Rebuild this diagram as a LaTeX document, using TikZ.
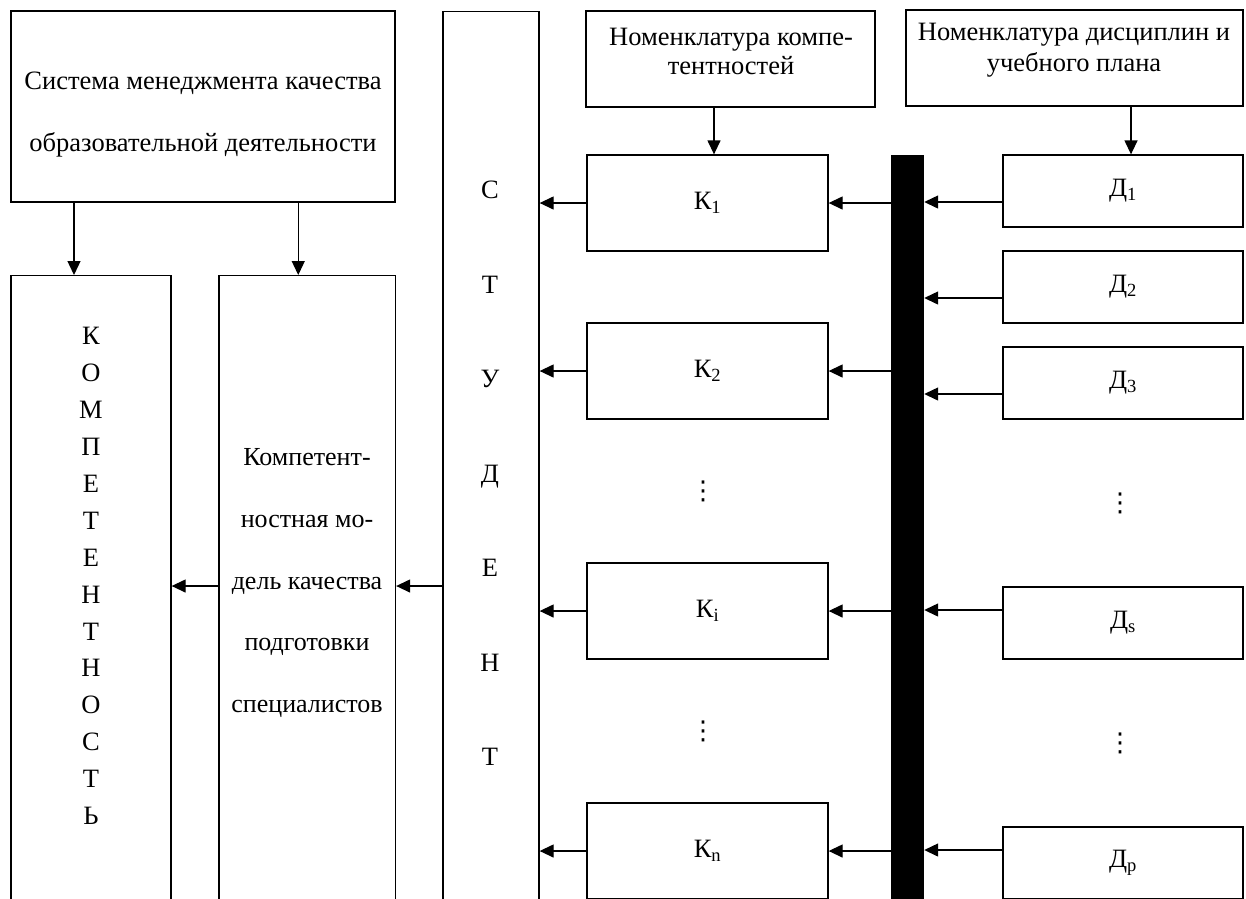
\documentclass[tikz,border=0pt]{standalone}
\usepackage{fontspec}
\setmainfont{Liberation Serif}
\newfontfamily\symfont{DejaVu Sans}
\usetikzlibrary{arrows.meta}

\newcommand{\dotcol}{{\symfont\fontsize{26}{26}\selectfont ⋮}}

\tikzset{
  box/.style={draw, line width=1.3pt, inner sep=0pt},
  kbox/.style={box, minimum width=241pt, minimum height=96pt},
  dbox/.style={box, minimum width=240pt, minimum height=72pt},
  tallbox/.style={box, anchor=north},
  arr/.style={-{Triangle[length=14pt,width=13pt]}, line width=1.3pt},
  txt/.style={align=center, inner sep=0pt},
}

\begin{document}
\begin{tikzpicture}[x=1pt, y=-1pt, every node/.style={font=\fontsize{26.5}{29}\selectfont}]

  \useasboundingbox (0,0) rectangle (1246,898);
  \clip (0,0) rectangle (1246,898);

  % Top boxes
  \node[box, minimum width=384pt, minimum height=191pt] (sys) at (203,106.5) {};
  \node[txt, font=\fontsize{26.5}{62}\selectfont] (systext) at (203,115)
    {Система менеджмента качества\\образовательной деятельности};

  \node[box, minimum width=289pt, minimum height=96pt] (nomk) at (730.5,59) {};
  \node[txt] (nomktext) at (731,51) {Номенклатура компе-\\тентностей};

  \node[box, minimum width=337pt, minimum height=96pt] (nomd) at (1074.5,58) {};
  \node[txt, font=\fontsize{26.5}{31}\selectfont] (nomdtext) at (1074,50) {Номенклатура дисциплин и\\учебного плана};

  % Tall boxes, cut by the lower edge
  \node[tallbox, minimum width=160pt, minimum height=700pt] (komp) at (91,275) {};
  \node[txt, font=\fontsize{26.5}{36.9}\selectfont] (komptext) at (91,576)
    {К\\О\\М\\П\\Е\\Т\\Е\\Н\\Т\\Н\\О\\С\\Т\\Ь};

  \node[tallbox, minimum width=176.5pt, minimum height=700pt] (model) at (307.25,275) {};
  \node[txt, font=\fontsize{26}{61.7}\selectfont] (modeltext) at (307,583)
    {Компетент-\\ностная мо-\\дель качества\\подготовки\\специалистов};

  \node[tallbox, minimum width=96pt, minimum height=925pt] (stud) at (491,11) {};
  \node[txt, font=\fontsize{26.5}{94.5}\selectfont] (studtext) at (490,473.5)
    {С\\Т\\У\\Д\\Е\\Н\\Т};

  % Black bar
  \node[fill=black, inner sep=0pt, minimum width=33pt, minimum height=760pt, anchor=north] (bar) at (907.5,155) {};

  % Competence boxes
  \foreach \n/\y/\s in {k1/203/1, k2/371/2, ki/611/i, kn/851/n}
    \node[kbox] (\n) at (707.5,\y) {К\textsubscript{\s}};

  % Discipline boxes
  \foreach \n/\y/\s in {d1/191/1, d2/287/2, d3/383/3, ds/623/s, dp/863/p}
    \node[dbox] (\n) at (1123,\y) {Д\textsubscript{\s}};

  % Dots
  \node (kdots1) at (703,491) {\dotcol};
  \node (kdots2) at (703,731) {\dotcol};
  \node (ddots1) at (1120,503) {\dotcol};
  \node (ddots2) at (1120,743) {\dotcol};

  % Arrows from the top boxes
  \draw[arr] ([xshift=-17pt]komp.north |- sys.south) -- ([xshift=-17pt]komp.north);
  \draw[arr] ([xshift=-9pt]model.north |- sys.south) -- ([xshift=-9pt]model.north);
  \draw[arr] ([xshift=6.5pt]k1.north |- nomk.south) -- ([xshift=6.5pt]k1.north);
  \draw[arr] ([xshift=8pt]d1.north |- nomd.south) -- ([xshift=8pt]d1.north);

  % Disciplines to the bar
  \foreach \n/\dy in {d1/-11, d2/-11, d3/-11, ds/13, dp/13}
    \draw[arr] ([yshift=\dy pt]\n.west) -- ([yshift=\dy pt]\n.west -| bar.east);

  % Bar to competences, competences to student
  \foreach \n in {k1, k2, ki, kn} {
    \draw[arr] (\n.east -| bar.west) -- (\n.east);
    \draw[arr] (\n.west) -- (\n.west -| stud.east);
  }

  % Student to model, model to competence
  \coordinate (row) at (0,586);
  \draw[arr] (stud.west |- row) -- (model.east |- row);
  \draw[arr] (model.west |- row) -- (komp.east |- row);

\end{tikzpicture}
\end{document}
